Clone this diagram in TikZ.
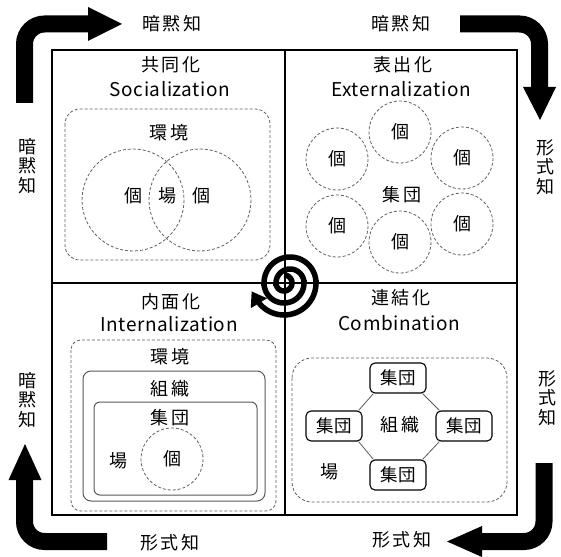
\documentclass[tikz,border=0pt]{standalone}
\usepackage{fontspec}
\setmainfont{Noto Sans CJK JP}
\usetikzlibrary{arrows.meta}
\begin{document}
\begin{tikzpicture}[x=1pt,y=-1pt,
  jp/.style={font=\fontsize{18}{19}\selectfont, inner sep=0pt},
  jpw/.style={font=\fontsize{18}{19}\selectfont\addfontfeature{LetterSpace=14}, inner sep=0pt},
  vert/.style={font=\fontsize{18}{19.5}\selectfont, inner sep=0pt, align=center},
  en/.style={font=\fontsize{19}{21}\selectfont\addfontfeature{LetterSpace=3}, inner sep=0pt},
  frame/.style={draw=black, line width=1.5pt},
  dsh/.style={draw=gray!75!black, line width=0.8pt, dash pattern=on 3pt off 2pt},
  gbox/.style={draw=gray!70!black, line width=1pt},
  grp/.style={draw=black, line width=1.1pt, rounded corners=5pt, minimum width=56pt, minimum height=30pt, inner sep=0pt, font=\fontsize{17.5}{19}\selectfont},
  link/.style={draw=gray!70!black, line width=0.8pt},
  shaft/.style={draw=black, line width=17pt, rounded corners=20pt},
  spiral/.style={draw=black, line width=5.5pt}
]
\useasboundingbox (0,0) rectangle (561,556);

% frame
\draw[frame] (52,50) rectangle (517,515);
\draw[frame] (285,50) -- (285,515);
\draw[frame] (52,283) -- (517,283);

% ---------- top-left: Socialization
\node[jpw] (sjp) at (171,65) {共同化};
\node[en] (sen) at (170,89) {Socialization};
\draw[dsh, rounded corners=15pt] (65,109) rectangle (270,260);
\node[jpw] (senv) at (169,133) {環境};
\draw[dsh] (133,200) circle (51);
\draw[dsh] (200,200) circle (51);
\node[jp] (si1) at (133,196) {個};
\node[jp] (sba) at (167,196) {場};
\node[jp] (si2) at (201,196) {個};

% ---------- top-right: Externalization
\node[jpw] (ejp) at (403,65) {表出化};
\node[en] (een) at (401,89) {Externalization};
\foreach \n/\px/\py in {e1/400/132, e2/337/159, e3/462/158, e4/337/226, e5/462/224, e6/400/242}{
  \draw[dsh] (\px,\py) circle (31);
  \node[jp] (\n) at (\px,\py) {個};
}
\node[jpw] (egrp) at (402,195) {集団};

% ---------- bottom-left: Internalization
\node[jpw] (ijp) at (171,302) {内面化};
\node[en] (ien) at (169,324) {Internalization};
\draw[dsh, rounded corners=10pt] (71,340) rectangle (276,511);
\node[jpw] (ienv) at (170,357) {環境};
\draw[gbox, rounded corners=8pt] (83,371) rectangle (265,501);
\node[jpw] (iorg) at (170,389) {組織};
\draw[gbox, rounded corners=6pt] (94,402) rectangle (257,495);
\node[jpw] (igrp) at (170,418) {集団};
\draw[dsh] (172,459) circle (31);
\node[jp] (iind) at (172,459) {個};
\node[jp] (iba) at (118,461) {場};

% ---------- bottom-right: Combination
\node[jpw] (cjp) at (401,298) {連結化};
\node[en] (cen) at (399,323) {Combination};
\draw[dsh, rounded corners=20pt] (292,358) rectangle (507,502);
\node[grp] (gt) at (398,378) {集団};
\node[grp] (gl) at (334,426) {集団};
\node[grp] (gr) at (464,426) {集団};
\node[grp] (gb) at (398,475) {集団};
\draw[link] ([xshift=4pt]gt.south west) -- ([xshift=-4pt]gl.north east);
\draw[link] ([xshift=-4pt]gt.south east) -- ([xshift=4pt]gr.north west);
\draw[link] ([xshift=-4pt]gl.south east) -- ([xshift=4pt]gb.north west);
\draw[link] ([xshift=4pt]gr.south west) -- ([xshift=-4pt]gb.north east);
\node[jpw] (corg) at (400,425) {組織};
\node[jp] (cba) at (329,472) {場};

% ---------- outside labels
\node[jpw] (lt1) at (172,24) {暗黙知};
\node[jpw] (lt2) at (401,24) {暗黙知};
\node[vert] (ll1) at (27,166) {暗\\黙\\知};
\node[vert] (lr1) at (545,167) {形\\式\\知};
\node[vert] (ll2) at (27,400) {暗\\黙\\知};
\node[vert] (lr2) at (547,398) {形\\式\\知};
\node[jpw] (lb1) at (170,543) {形式知};
\node[jpw] (lb2) at (402,540) {形式知};

% ---------- bent arrows
\coordinate (a1s) at (24.5,103); \coordinate (a1c) at (24.5,24); \coordinate (a1e) at (89,24);
\draw[shaft] (a1s) -- (a1c) -- (a1e);
\fill (88,7) -- (122,24) -- (88,41) -- cycle;

\coordinate (a2s) at (460,24); \coordinate (a2c) at (539.5,24); \coordinate (a2e) at (539.5,88);
\draw[shaft] (a2s) -- (a2c) -- (a2e);
\fill (523,87) -- (540,120) -- (556,87) -- cycle;

\coordinate (a3s) at (544,463); \coordinate (a3c) at (544,541.5); \coordinate (a3e) at (481,541.5);
\draw[shaft] (a3s) -- (a3c) -- (a3e);
\fill (482,526) -- (447,541.5) -- (482,557) -- cycle;

\coordinate (a4s) at (107,541.5); \coordinate (a4c) at (24.5,541.5); \coordinate (a4e) at (24.5,479);
\draw[shaft] (a4s) -- (a4c) -- (a4e);
\fill (8.5,480) -- (25,444) -- (41.5,480) -- cycle;

% ---------- spiral (alternating half circles)
\draw[spiral, -{Triangle[length=14pt 0, width=18pt 0]}, shorten >=-9pt]
  plot[domain=-90:180, samples=50, smooth] ({284+8*cos(\x)}, {283+8*sin(\x)})
  -- plot[domain=180:360, samples=40, smooth] ({290+14*cos(\x)}, {283+14*sin(\x)})
  -- plot[domain=0:180, samples=40, smooth] ({284+20*cos(\x)}, {283+20*sin(\x)})
  -- plot[domain=180:360, samples=40, smooth] ({290+26*cos(\x)}, {283+26*sin(\x)})
  -- plot[domain=0:150, samples=34, smooth] ({284+32*cos(\x)}, {283+32*sin(\x)});
\end{tikzpicture}
\end{document}
